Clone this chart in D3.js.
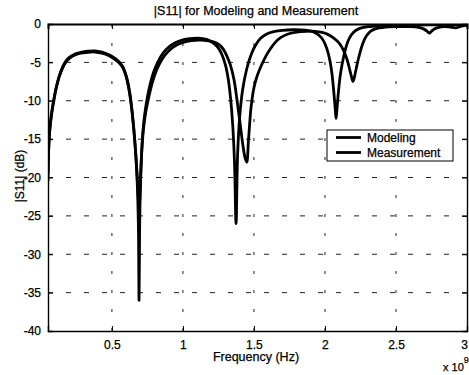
<!DOCTYPE html>
<html>
<head>
<meta charset="utf-8">
<script src="https://cdn.jsdelivr.net/npm/d3@7"></script>
<style>
  body { margin: 0; background: #fff; }
  svg { display: block; font-family: "Liberation Sans", Arial, sans-serif; }
  svg text { fill: #000; stroke: #000; stroke-width: 0.25px; }
  .grid line { stroke: #222; stroke-width: 1; }
  .curve { fill: none; stroke: #000; stroke-width: 2.8; stroke-linejoin: round; }
</style>
</head>
<body>
<svg width="469" height="375"></svg>
<script>
// frequency in units of 1e9 Hz, |S11| in dB
var modelFreq = [0.05, 0.053, 0.057, 0.062, 0.07, 0.08, 0.092, 0.105, 0.12, 0.14, 0.17, 0.20, 0.24, 0.28, 0.33, 0.38, 0.43, 0.48, 0.52, 0.55, 0.575, 0.595, 0.61, 0.625, 0.64, 0.655, 0.668, 0.68, 0.687, 0.691, 0.695, 0.70, 0.71, 0.72, 0.735, 0.75, 0.77, 0.795, 0.825, 0.86, 0.90, 0.95, 1.00, 1.05, 1.10, 1.15, 1.19, 1.22, 1.25, 1.275, 1.30, 1.32, 1.335, 1.35, 1.363, 1.374, 1.385, 1.40, 1.42, 1.45, 1.48, 1.51, 1.545, 1.59, 1.64, 1.70, 1.78, 1.86, 1.92, 1.96, 1.99, 2.015, 2.035, 2.05, 2.062, 2.072, 2.078, 2.085, 2.095, 2.11, 2.13, 2.15, 2.17, 2.20, 2.24, 2.30, 2.40, 2.55, 2.75, 3.0];
var modelDb   = [-20.5, -17.5, -15.5, -14, -12.6, -11.2, -9.9, -8.6, -7.4, -6.2, -5.0, -4.35, -3.9, -3.7, -3.55, -3.5, -3.65, -4.0, -4.45, -4.9, -5.5, -6.4, -7.4, -8.9, -11, -13.8, -17, -21.5, -27, -36, -27, -21.5, -16.5, -13.6, -11.2, -9.5, -7.8, -6.2, -4.9, -3.8, -3.0, -2.4, -2.05, -1.9, -1.85, -1.95, -2.2, -2.55, -3.15, -4.0, -5.4, -7.3, -9.6, -13, -18, -26, -17, -12, -8.6, -5.8, -4.0, -2.8, -1.9, -1.3, -1.0, -0.82, -0.75, -0.8, -1.05, -1.5, -2.2, -3.3, -4.8, -6.6, -8.8, -11, -12.3, -11, -8.8, -6.4, -4.4, -2.9, -1.9, -1.1, -0.6, -0.35, -0.22, -0.15, -0.12, -0.1];

var measFreq = [0.05, 0.053, 0.057, 0.062, 0.07, 0.08, 0.092, 0.105, 0.12, 0.14, 0.17, 0.20, 0.24, 0.28, 0.33, 0.38, 0.43, 0.48, 0.52, 0.55, 0.575, 0.595, 0.61, 0.625, 0.64, 0.655, 0.668, 0.68, 0.687, 0.692, 0.697, 0.703, 0.712, 0.725, 0.74, 0.76, 0.785, 0.815, 0.85, 0.89, 0.94, 1.00, 1.06, 1.13, 1.18, 1.22, 1.255, 1.285, 1.31, 1.335, 1.36, 1.38, 1.40, 1.42, 1.437, 1.449, 1.462, 1.48, 1.50, 1.52, 1.545, 1.575, 1.61, 1.65, 1.69, 1.74, 1.80, 1.87, 1.93, 1.98, 2.02, 2.06, 2.10, 2.13, 2.155, 2.175, 2.19, 2.197, 2.205, 2.22, 2.24, 2.265, 2.29, 2.32, 2.36, 2.42, 2.50, 2.60, 2.66, 2.70, 2.72, 2.735, 2.75, 2.77, 2.80, 2.84, 2.88, 2.92, 2.95, 3.0];
var measDb   = [-19.5, -17, -15.2, -13.8, -12.3, -11.0, -9.7, -8.5, -7.4, -6.3, -5.15, -4.5, -4.05, -3.8, -3.68, -3.65, -3.8, -4.15, -4.6, -5.05, -5.65, -6.55, -7.6, -9.1, -11.2, -14, -17, -20.5, -23, -24, -22.5, -19.5, -16, -13.2, -11.3, -9.5, -7.6, -6.0, -4.7, -3.7, -2.9, -2.4, -2.15, -2.1, -2.2, -2.35, -2.7, -3.3, -4.2, -5.4, -7.3, -9.8, -12.6, -15.5, -17.4, -18, -15, -10.8, -8.3, -6.9, -5.7, -4.5, -3.4, -2.4, -1.75, -1.3, -1.05, -0.95, -0.95, -1.1, -1.35, -1.8, -2.5, -3.4, -4.6, -6.0, -7.1, -7.5, -7.1, -5.8, -4.2, -2.6, -1.6, -0.95, -0.6, -0.42, -0.35, -0.35, -0.45, -0.7, -0.95, -1.2, -0.95, -0.65, -0.45, -0.35, -0.4, -0.5, -0.35, -0.15];

var xTicks = [0.5, 1, 1.5, 2, 2.5, 3];
var yTicks = [0, -5, -10, -15, -20, -25, -30, -35, -40];
var seriesNames = ["Modeling", "Measurement"];

var svg = d3.select("svg");
var pLeft = 48, pRight = 467, pTop = 24, pBottom = 331;

var x = d3.scaleLinear().domain([0.05, 3]).range([pLeft, pRight]);
var y = d3.scaleLinear().domain([-40, 0]).range([pBottom, pTop]);

// grid
var grid = svg.append("g").attr("class", "grid");
grid.selectAll("line.gx")
  .data(xTicks.filter(function(d) { return d < 3; }))
  .enter()
  .append("line")
  .attr("x1", function(d) { return x(d); })
  .attr("x2", function(d) { return x(d); })
  .attr("y1", pTop)
  .attr("y2", pBottom)
  .attr("stroke-dasharray", "3,16");
grid.selectAll("line.gy")
  .data(yTicks.filter(function(d) { return d > -40 && d < 0; }))
  .enter()
  .append("line")
  .attr("x1", pLeft)
  .attr("x2", pRight)
  .attr("y1", function(d) { return y(d); })
  .attr("y2", function(d) { return y(d); })
  .attr("stroke-dasharray", "5,13");

// curves
svg.append("clipPath").attr("id", "clip")
  .append("rect")
  .attr("x", pLeft).attr("y", pTop)
  .attr("width", pRight - pLeft).attr("height", pBottom - pTop);

var line = d3.line()
  .x(function(d) { return x(d[0]); })
  .y(function(d) { return y(d[1]); })
  .curve(d3.curveCatmullRom.alpha(0.5));

var series = [d3.zip(modelFreq, modelDb), d3.zip(measFreq, measDb)];
svg.append("g").attr("clip-path", "url(#clip)")
  .selectAll("path")
  .data(series)
  .enter()
  .append("path")
  .attr("class", "curve")
  .attr("d", line);

// axes (box with inward ticks)
var axB = svg.append("g").attr("transform", "translate(0," + pBottom + ")")
  .call(d3.axisBottom(x).tickValues(xTicks).tickSize(-5).tickPadding(9).tickFormat(d3.format("")));
var axT = svg.append("g").attr("transform", "translate(0," + pTop + ")")
  .call(d3.axisTop(x).tickValues(xTicks).tickSize(-5).tickFormat(""));
var axL = svg.append("g").attr("transform", "translate(" + pLeft + ",0)")
  .call(d3.axisLeft(y).tickValues(yTicks).tickSize(-5).tickPadding(7).tickFormat(d3.format("")));
var axR = svg.append("g").attr("transform", "translate(" + pRight + ",0)")
  .call(d3.axisRight(y).tickValues(yTicks).tickSize(-5).tickFormat(""));

[axB, axT, axL, axR].forEach(function(a) {
  a.select(".domain").attr("stroke", "#000").attr("stroke-width", 1.4);
  a.selectAll(".tick line").attr("stroke", "#000");
  a.selectAll("text").attr("fill", "#000").style("font-size", "12px")
    .style("font-family", "'Liberation Sans', Arial, sans-serif");
});
axT.select(".domain").attr("stroke-width", 2);
axL.selectAll("text").text(function(d) { return d === 0 ? "0" : "-" + Math.abs(d); });
axB.selectAll(".tick text").filter(function(d) { return d === 3; }).attr("dx", -3);

// titles
svg.append("text")
  .attr("x", 256).attr("y", 15)
  .attr("text-anchor", "middle")
  .style("font-size", "12.5px")
  .text("|S11| for Modeling and Measurement");

svg.append("text")
  .attr("x", 256).attr("y", 361)
  .attr("text-anchor", "middle")
  .style("font-size", "12.5px")
  .text("Frequency (Hz)");

svg.append("text")
  .attr("transform", "translate(24,176) rotate(-90)")
  .attr("text-anchor", "middle")
  .style("font-size", "12px")
  .text("|S11| (dB)");

var expo = svg.append("text").attr("x", 443).attr("y", 371).style("font-size", "11px");
expo.append("tspan").text("x 10");
expo.append("tspan").attr("dy", -8).style("font-size", "9px").text("9");

// legend
var lg = svg.append("g").attr("transform", "translate(327,130)");
lg.append("rect")
  .attr("width", 126).attr("height", 31)
  .attr("fill", "#fff").attr("stroke", "#000").attr("stroke-width", 1);
lg.selectAll("g.item")
  .data(seriesNames)
  .enter()
  .append("g")
  .attr("transform", function(d, i) { return "translate(0," + (7.5 + i * 15) + ")"; })
  .each(function(d) {
    var g = d3.select(this);
    g.append("line").attr("x1", 9).attr("x2", 34).attr("y1", 0).attr("y2", 0)
      .attr("stroke", "#000").attr("stroke-width", 2.8);
    g.append("text").attr("x", 40).attr("y", 4.5).style("font-size", "12px").text(d);
  });
</script>
</body>
</html>
